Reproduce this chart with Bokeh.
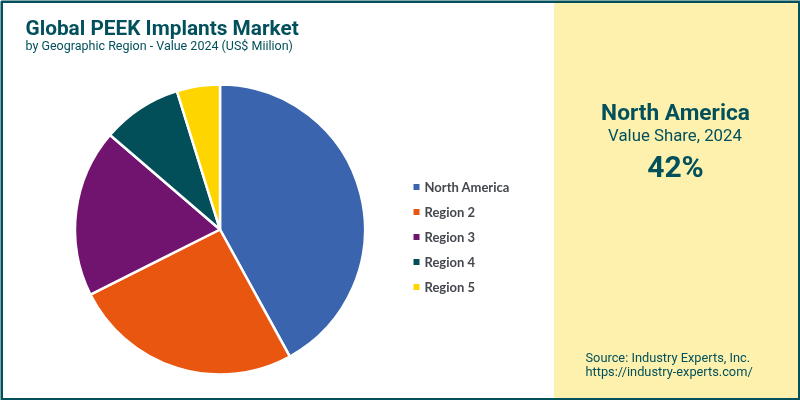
"""
Global PEEK implants market, share by region
"""
from math import pi

import numpy as np
from bokeh.core.properties import value
from bokeh.embed import file_html
from bokeh.models import ColumnDataSource
from bokeh.plotting import figure
from bokeh.resources import INLINE

regions = ["North America", "Region 2", "Region 3", "Region 4", "Region 5"]
shares = [42, 25.6, 18.7, 8.9, 4.8]
colors = ["#3A64AE", "#E8560F", "#711470", "#024F5A", "#FFD500"]

TEAL = "#02505B"
PANEL = "#FEF1AE"

p = figure(
    width=800,
    height=400,
    x_range=(0, 800),
    y_range=(400, 0),
    toolbar_location=None,
    output_backend="svg",
    min_border=0,
    outline_line_color=None,
)
p.styles = {"position": "fixed", "left": "0", "top": "0"}
p.axis.visible = False
p.grid.visible = False

# right panel and frame
p.quad(left=553.5, right=800, top=0, bottom=400, fill_color=PANEL, line_color=None)
p.quad(left=1, right=799, top=1, bottom=399, fill_color=None, line_color=TEAL, line_width=3)

# pie, clockwise from the top
fractions = np.array(shares) / sum(shares)
ends = pi / 2 - np.cumsum(fractions) * 2 * pi
starts = np.concatenate(([pi / 2], ends[:-1]))
source = ColumnDataSource(
    data=dict(region=regions, start=starts, end=ends, color=colors)
)
p.wedge(
    x=219.5,
    y=229,
    radius=145,
    start_angle="start",
    end_angle="end",
    direction="clock",
    fill_color="color",
    line_color="white",
    line_width=2.5,
    source=source,
)

# legend
legend_y = [186.5, 211.5, 236.5, 261.5, 286.5]
p.scatter(x=[416] * 5, y=legend_y, marker="square", size=6, color=colors, line_color=None)
p.text(
    x=[424] * 5,
    y=legend_y,
    text=regions,
    text_font=value("Lato"),
    text_font_style="bold",
    text_font_size="13px",
    text_color="#44484E",
    text_baseline="middle",
)


def label(x, y, text, size, style="normal", align="left"):
    p.text(
        x=[x],
        y=[y],
        text=[text],
        text_font=value("Roboto"),
        text_font_size=size,
        text_font_style=style,
        text_color=TEAL,
        text_align=align,
        text_baseline="middle",
    )


label(25, 27, "Global PEEK Implants Market", "20.8px", "bold")
label(25, 44.5, "by Geographic Region - Value 2024 (US$ Miilion)", "12.5px")
label(675, 112, "North America", "22.7px", "bold", "center")
label(674.5, 134, "Value Share, 2024", "16.8px", "normal", "center")
label(675, 165.5, "42%", "30px", "bold", "center")
label(585, 357, "Source: Industry Experts, Inc.", "12.8px")
label(585, 371, "https://industry-experts.com/", "12.8px")

open("out.html", "w").write(file_html(p, INLINE))
